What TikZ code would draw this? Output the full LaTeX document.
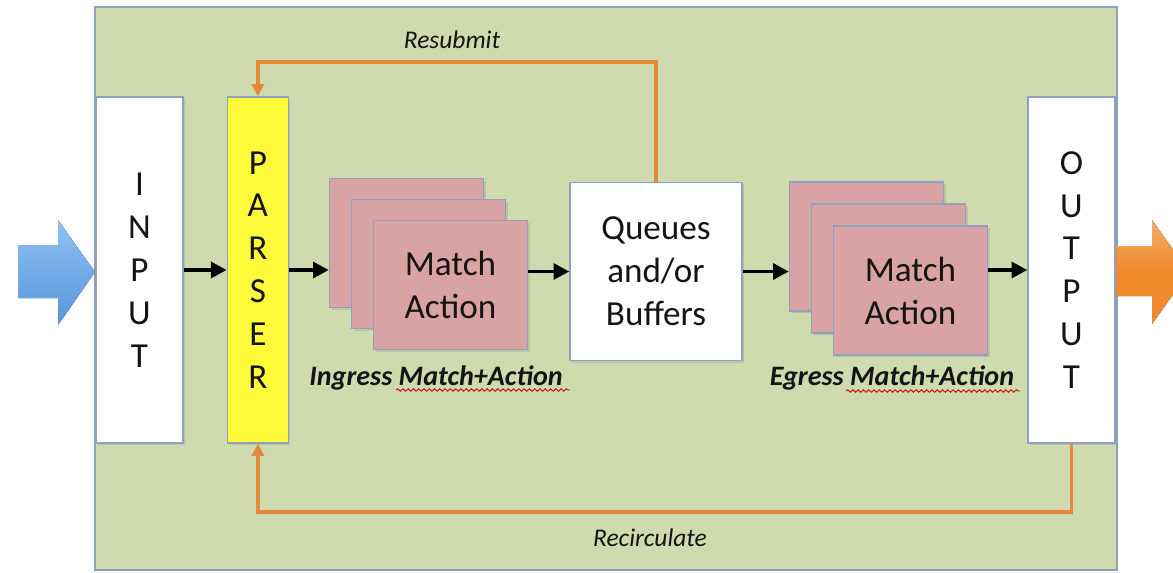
\documentclass[tikz,border=0pt]{standalone}
\usepackage{fontspec}
\setmainfont{Carlito}
\usepackage{tikz}
\usetikzlibrary{positioning, arrows.meta, shadows, decorations.pathmorphing}
\definecolor{panelColor}{HTML}{CFDBAE}
\definecolor{edgeColor}{HTML}{8EA2BE}
\definecolor{parserColor}{HTML}{FFFB3A}
\definecolor{stageColor}{HTML}{D9A3A6}
\definecolor{loopColor}{HTML}{E48A3A}
\definecolor{inColor}{HTML}{8FC0F2}
\definecolor{inDark}{HTML}{5796DE}
\definecolor{outColor}{HTML}{F08A2C}
\definecolor{inkColor}{HTML}{141414}

\begin{document}
\begin{tikzpicture}[
  x=0.02cm, y=-0.02cm,
  every node/.style={
    inner sep=0pt,
    align=center,
    text=inkColor,
    font=\fontsize{20}{24.4}\selectfont
  },
  box/.style={
    rectangle,
    draw=edgeColor,
    line width=0.8pt,
    drop shadow={shadow xshift=1.2pt, shadow yshift=-1.2pt, opacity=0.25}
  },
  port/.style={box, fill=white, minimum width=1.74cm, minimum height=6.92cm},
  parserbox/.style={box, fill=parserColor, minimum width=1.22cm, minimum height=6.92cm},
  stage/.style={box, fill=stageColor, minimum width=3.08cm, minimum height=2.58cm},
  buffer/.style={box, fill=white, minimum width=3.44cm, minimum height=3.56cm},
  flow/.style={-{Triangle[length=9pt, width=9pt]}, line width=2.2pt, draw=black},
  loop/.style={-{Triangle[length=7pt, width=7pt]}, line width=2.1pt, draw=loopColor},
  tag/.style={font=\fontsize{14.5}{16}\selectfont\itshape},
  caption/.style={font=\fontsize{16}{18}\selectfont\bfseries\itshape},
  squiggle/.style={draw=red!80!black, line width=0.5pt,
    decorate, decoration={snake, amplitude=0.7pt, segment length=3pt}}
]
  \clip (0,0) rectangle (1173,572);

  % green switch panel
  \fill[panelColor, draw=edgeColor, line width=0.8pt] (95,7) rectangle (1117,570);

  % packets in and out
  \fill[top color=inColor, bottom color=inDark]
    (18,245) -- (58,245) -- (58,220) -- (95,272) -- (58,325) -- (58,298) -- (18,298) -- cycle;
  \fill[top color=outColor!70!white, bottom color=outColor, middle color=outColor]
    (1110,246) -- (1152,246) -- (1152,220) -- (1189,272) -- (1152,324) -- (1152,296) -- (1110,296) -- cycle;

  % Define nodes
  \node[port] (input) at (139.5,270) {I\\N\\P\\U\\T};
  \node[parserbox] (parser) [right=0.86cm of input] {P\\A\\R\\S\\E\\R};

  \node[stage] (ing1) at (406.5,243) {};
  \node[stage] (ing2) at ([shift={(22,21)}]ing1) {};
  \node[stage] (ing3) at ([shift={(22,21)}]ing2) {Match\\Action};

  \node[buffer] (queues) at (656,271.5) {Queues\\and/or\\Buffers};

  \node[stage] (eg1) at (866.5,246.5) {};
  \node[stage] (eg2) at ([shift={(22,22)}]eg1) {};
  \node[stage] (eg3) at ([shift={(22,22)}]eg2) {Match\\Action};

  \node[port] (output) at (1071.5,270) {O\\U\\T\\P\\U\\T};

  \node[caption] (ingtag) at (436,378) {Ingress Match+Action};
  \node[caption] (egtag) at (892,378) {Egress Match+Action};
  \draw[squiggle] (396,390) -- (570,390);
  \draw[squiggle] (846,391) -- (1020,391);

  \node[tag] (resubmit) at (452,40) {Resubmit};
  \node[tag] (recirc) at (650,538) {Recirculate};

  % Connect nodes with arrows
  \draw[flow] (input) -- (parser);
  \draw[flow] (parser) -- (parser -| ing1.west);
  \draw[flow] (ing3.east |- queues) -- (queues);
  \draw[flow] (queues) -- (queues -| eg1.west);
  \draw[flow] (eg3.east |- output) -- (output);

  % feedback paths into the parser
  \draw[loop] (queues.north) -- ++(0,-120) -| (parser.north);
  \draw[loop] (output.south) -- ++(0,68) -| (parser.south);
\end{tikzpicture}
\end{document}
